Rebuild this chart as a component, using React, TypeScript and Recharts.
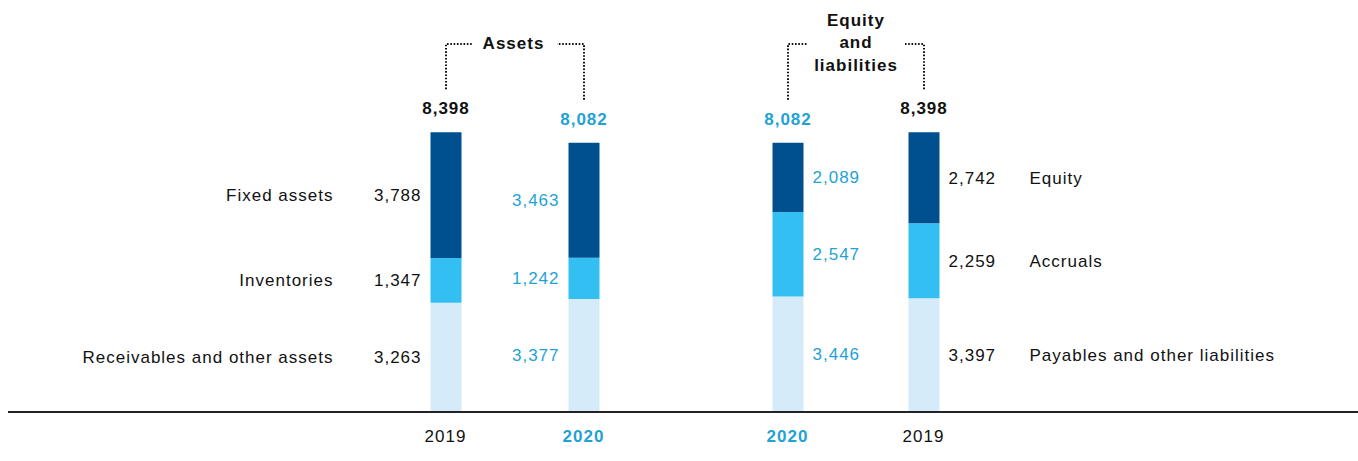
import { BarChart, Bar, XAxis, YAxis, LabelList } from 'recharts';

// values in EUR million
const assetYears = ['2019', '2020'];
const fixedAssets = [3788, 3463];
const inventories = [1347, 1242];
const receivables = [3263, 3377];
const assetTotals = [8398, 8082];

const liabYears = ['2020', '2019'];
const equity = [2089, 2742];
const accruals = [2547, 2259];
const payables = [3446, 3397];
const liabTotals = [8082, 8398];

const FONT = '"Liberation Sans", Arial, Helvetica, sans-serif';
const INK = '#111111';
const BLUE = '#1fa2d4';
const DARK = '#00508f';
const MID = '#33bff2';
const LIGHT = '#d5ebfa';
const HEAD_Y = 44;
const SPACING = 1;

const fmt = (v: number) => v.toLocaleString('en-US');

const assetData = assetYears.map((year, i) => ({
  year,
  receivables: receivables[i],
  inventories: inventories[i],
  fixed: fixedAssets[i],
  total: assetTotals[i],
}));

const liabData = liabYears.map((year, i) => ({
  year,
  payables: payables[i],
  accruals: accruals[i],
  equity: equity[i],
  total: liabTotals[i],
}));

type Seg = { key: string; name: string; fill: string };

interface LabelOpts {
  seg: Seg;
  side: 'left' | 'right';
  nameIdx: number;
  nameGap: number;
  years: string[];
  totals?: number[];
  arms?: number[];
}

const makeLabel = (o: LabelOpts) => (props: any) => {
  const vb = props.viewBox ?? props;
  const x = Number(vb.x ?? props.x);
  const y = Number(vb.y ?? props.y);
  const w = Number(vb.width ?? props.width);
  const h = Number(vb.height ?? props.height);
  const idx = props.index ?? 0;
  const color = o.years[idx] === '2020' ? BLUE : INK;
  const cy = y + h / 2 + 6;
  const vx = o.side === 'left' ? x - 9 : x + w + 9;
  const anchor = o.side === 'left' ? 'end' : 'start';
  const cx = x + w / 2;
  return (
    <g fontFamily={FONT} fontSize={17} letterSpacing={SPACING}>
      <text x={vx} y={cy} fill={color} textAnchor={anchor}>
        {fmt(Number(props.value))}
      </text>
      {idx === o.nameIdx && (
        <text
          x={o.side === 'left' ? x - o.nameGap : x + w + o.nameGap}
          y={cy}
          fill={INK}
          textAnchor={anchor}
        >
          {o.seg.name}
        </text>
      )}
      {o.totals && (
        <text x={cx} y={y - 18} fill={color} textAnchor="middle" fontWeight="bold">
          {fmt(o.totals[idx])}
        </text>
      )}
      {o.arms && (
        <path
          d={`M${cx},${y - 43} L${cx},${HEAD_Y} L${cx + (o.arms[idx] ?? 0)},${HEAD_Y}`}
          fill="none"
          stroke={INK}
          strokeWidth={2}
          strokeDasharray="1.6 1.7"
        />
      )}
    </g>
  );
};

const YearTick = (props: any) => {
  const { x, y, payload } = props;
  const is2020 = payload.value === '2020';
  return (
    <text
      x={x}
      y={y + 31}
      textAnchor="middle"
      fontFamily={FONT}
      fontSize={17}
      letterSpacing={SPACING}
      fontWeight={is2020 ? 'bold' : 'normal'}
      fill={is2020 ? BLUE : INK}
    >
      {payload.value}
    </text>
  );
};

interface GroupProps {
  data: any[];
  segs: Seg[];
  years: string[];
  totals: number[];
  arms: number[];
  side: 'left' | 'right';
  nameIdx: number;
  nameGap: number;
  left: number;
  width: number;
  marginLeft: number;
  marginRight: number;
}

function Group(p: GroupProps) {
  return (
    <div style={{ position: 'absolute', left: p.left, top: 0 }}>
      <BarChart
        width={p.width}
        height={461}
        data={p.data}
        barSize={31}
        margin={{ top: 79, right: p.marginRight, left: p.marginLeft, bottom: 0 }}
      >
        <XAxis
          dataKey="year"
          axisLine={false}
          tickLine={false}
          tickSize={0}
          tickMargin={0}
          height={50}
          interval={0}
          tick={<YearTick />}
        />
        <YAxis hide domain={[0, 10000]} />
        {p.segs.map((seg, i) => {
          const top = i === p.segs.length - 1;
          return (
            <Bar key={seg.key} dataKey={seg.key} stackId="s" fill={seg.fill} isAnimationActive={false}>
              <LabelList
                dataKey={seg.key}
                content={makeLabel({
                  seg,
                  side: p.side,
                  nameIdx: p.nameIdx,
                  nameGap: p.nameGap,
                  years: p.years,
                  totals: top ? p.totals : undefined,
                  arms: top ? p.arms : undefined,
                })}
              />
            </Bar>
          );
        })}
      </BarChart>
    </div>
  );
}

const assetSegs: Seg[] = [
  { key: 'receivables', name: 'Receivables and other assets', fill: LIGHT },
  { key: 'inventories', name: 'Inventories', fill: MID },
  { key: 'fixed', name: 'Fixed assets', fill: DARK },
];

const liabSegs: Seg[] = [
  { key: 'payables', name: 'Payables and other liabilities', fill: LIGHT },
  { key: 'accruals', name: 'Accruals', fill: MID },
  { key: 'equity', name: 'Equity', fill: DARK },
];

const headStyle: React.CSSProperties = {
  position: 'absolute',
  width: 200,
  textAlign: 'center',
  fontFamily: FONT,
  fontSize: 17,
  fontWeight: 'bold',
  letterSpacing: SPACING,
  lineHeight: '22.5px',
  color: INK,
};

export default function App() {
  return (
    <div style={{ position: 'absolute', left: 0, top: 0, width: 1358, height: 461, background: '#fff' }}>
      <Group
        data={assetData}
        segs={assetSegs}
        years={assetYears}
        totals={assetTotals}
        arms={[26, -27]}
        side="left"
        nameIdx={0}
        nameGap={97}
        left={0}
        width={680}
        marginLeft={376.5}
        marginRight={27.5}
      />
      <Group
        data={liabData}
        segs={liabSegs}
        years={liabYears}
        totals={liabTotals}
        arms={[19, -19]}
        side="right"
        nameIdx={1}
        nameGap={90}
        left={680}
        width={678}
        marginLeft={39.5}
        marginRight={366.5}
      />
      <div style={{ ...headStyle, left: 413.5, top: HEAD_Y - 11.25 }}>Assets</div>
      <div style={{ ...headStyle, left: 756, top: 21 - 11.25 }}>
        Equity
        <br />
        and
        <br />
        liabilities
      </div>
      <div style={{ position: 'absolute', left: 8, top: 411, width: 1350, height: 2, background: '#222' }} />
    </div>
  );
}
